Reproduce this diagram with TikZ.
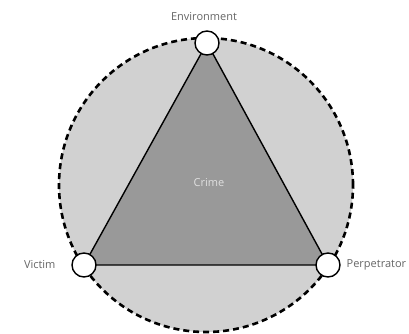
\documentclass[tikz,border=0pt]{standalone}
\usepackage{fontspec}
\setmainfont{Open Sans}
\begin{document}
\begin{tikzpicture}[x=1pt,y=-1pt,
  vertex/.style={circle,draw=black,line width=1.4pt,fill=white,minimum size=24pt,inner sep=0pt},
  lbl/.style={font=\fontsize{11}{13}\selectfont,text=black!60},
  ring/.style={circle,draw=black,line width=2.6pt,dash pattern=on 6pt off 4pt,fill=black!18,minimum size=294pt,inner sep=0pt}]
\useasboundingbox[fill=white] (0,0) rectangle (409,334);
\node[ring] (ring) at (206,185) {};
\coordinate (E) at (207,43);
\coordinate (V) at (84,265);
\coordinate (P) at (328,265);
\fill[black!40] (E) -- (V) -- (P) -- cycle;
\draw[line width=1.4pt] (E) -- (V) -- (P) -- cycle;
\node[vertex] (env) at (E) {};
\node[vertex] (vic) at (V) {};
\node[vertex] (perp) at (P) {};
\node[lbl] (tenv) at (204,17) {Environment};
\node[lbl,anchor=east] (tvic) at (59,265) {Victim};
\node[lbl,anchor=west,inner sep=0.5pt] (tperp) at (346,265) {Perpetrator};
\node[lbl,text=white!88!black] (crime) at (209,183) {Crime};
\end{tikzpicture}
\end{document}
